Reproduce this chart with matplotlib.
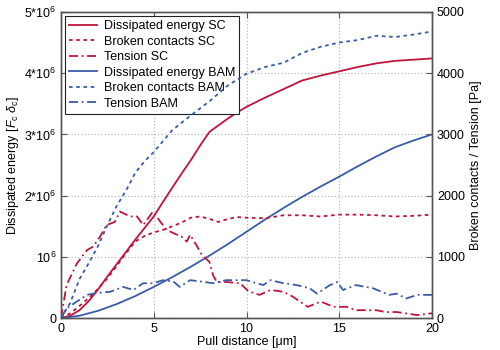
import matplotlib
matplotlib.use("Agg")
import matplotlib.pyplot as plt

plt.rcParams["font.family"] = ["Liberation Sans", "DejaVu Sans"]
plt.rcParams["mathtext.fontset"] = "custom"
plt.rcParams["mathtext.rm"] = "Liberation Sans"
plt.rcParams["mathtext.it"] = "Liberation Sans:italic"
plt.rcParams["mathtext.sf"] = "Liberation Sans"

RED = "#c0143c"
BLUE = "#3a5ba6"

# Dissipated energy (left axis, units of 1e6)
x_e_sc = [0, 0.5, 1, 1.5, 2, 2.5, 3, 3.5, 4, 4.5, 5, 5.5, 6, 6.5, 7, 7.5, 8, 8.5, 9, 9.5,
          10, 11, 12, 13, 14, 15, 16, 17, 18, 19, 20]
e_sc = [0, 0.04, 0.13, 0.28, 0.47, 0.68, 0.88, 1.08, 1.28, 1.47, 1.66, 1.9, 2.13, 2.36, 2.58,
        2.82, 3.04, 3.15, 3.26, 3.36, 3.45, 3.6, 3.74, 3.88, 3.96, 4.03, 4.1, 4.16, 4.2, 4.22, 4.24]

x_e_bam = [0, 1, 2, 3, 4, 5, 6, 7, 8, 9, 10, 11, 12, 13, 14, 15, 16, 17, 18, 19, 20]
e_bam = [0, 0.04, 0.12, 0.23, 0.36, 0.51, 0.67, 0.84, 1.02, 1.21, 1.41, 1.61, 1.8, 1.98,
         2.15, 2.31, 2.48, 2.64, 2.79, 2.9, 3.0]

# Broken contacts (right axis)
x_b_sc = [0, 0.5, 1, 1.5, 2, 2.5, 3, 3.5, 4, 4.5, 5, 5.5, 6, 6.5, 7, 7.5, 8, 8.5, 9, 9.5,
          10, 11, 12, 13, 14, 15, 16, 17, 18, 19, 20]
b_sc = [0, 80, 200, 330, 480, 650, 850, 1060, 1250, 1340, 1400, 1440, 1500, 1560, 1640, 1660,
        1620, 1570, 1620, 1650, 1640, 1630, 1680, 1680, 1660, 1690, 1690, 1680, 1660, 1670, 1690]

x_b_bam = [0, 0.5, 1, 1.5, 2, 2.5, 3, 3.5, 4, 4.5, 5, 6, 7, 8, 9, 10, 11, 12, 13, 14, 15,
           16, 17, 18, 19, 20]
b_bam = [0, 250, 640, 900, 1180, 1520, 1830, 2080, 2370, 2560, 2710, 3070, 3310, 3540, 3800,
         3990, 4100, 4170, 4330, 4430, 4500, 4540, 4610, 4590, 4630, 4680]

# Tension (right axis)
x_t_sc = [0, 0.3, 0.85, 1.4, 1.74, 2.1, 2.46, 2.9, 3.18, 3.72, 4.1, 4.43, 4.96, 5.34, 5.7,
          6.05, 6.5, 6.78, 6.96, 7.3, 7.6, 8.0, 8.2, 8.4, 8.9, 9.65, 10.1, 10.7, 11.3, 12,
          12.5, 13.3, 14, 14.7, 15.4, 15.9, 17, 17.5, 18.1, 19.2, 20]
t_sc = [0, 540, 890, 1110, 1170, 1330, 1520, 1570, 1740, 1660, 1660, 1520, 1740, 1580, 1440,
        1390, 1330, 1250, 1360, 1190, 1030, 920, 700, 590, 590, 570, 440, 380, 460, 430,
        350, 185, 270, 185, 185, 130, 130, 100, 100, 50, 80]

x_t_bam = [0, 0.3, 0.85, 1.4, 1.92, 2.64, 3.35, 3.9, 4.43, 4.96, 5.5, 6.05, 6.4, 6.96, 7.5,
           8.2, 8.9, 10, 10.9, 11.3, 12, 12.7, 13.4, 13.8, 14.5, 14.9, 15.2, 15.9, 16.8,
           17.7, 18.1, 18.6, 19.2, 20]
t_bam = [0, 160, 270, 380, 410, 430, 510, 460, 570, 570, 620, 600, 510, 620, 600, 570, 620,
         620, 540, 620, 570, 540, 490, 400, 540, 590, 460, 540, 490, 380, 400, 320, 380, 380]

fig = plt.figure(figsize=(5, 3.5), dpi=100)
ax = fig.add_axes([0.122, 0.091, 0.742, 0.875])
ax2 = ax.twinx()

l1, = ax.plot(x_e_sc, [v * 1e6 for v in e_sc], "-", color=RED, lw=1.3, label="Dissipated energy SC")
l2, = ax2.plot(x_b_sc, b_sc, color=RED, lw=1.3, ls=(0, (2, 2)), label="Broken contacts SC")
l3, = ax2.plot(x_t_sc, t_sc, color=RED, lw=1.3, ls=(0, (5, 2, 1, 2)), label="Tension SC")
l4, = ax.plot(x_e_bam, [v * 1e6 for v in e_bam], "-", color=BLUE, lw=1.3, label="Dissipated energy BAM")
l5, = ax2.plot(x_b_bam, b_bam, color=BLUE, lw=1.3, ls=(0, (2, 2)), label="Broken contacts BAM")
l6, = ax2.plot(x_t_bam, t_bam, color=BLUE, lw=1.3, ls=(0, (5, 2, 1, 2)), label="Tension BAM")

ax.set_xlim(0, 20)
ax.set_ylim(0, 5e6)
ax2.set_ylim(0, 5000)
ax.set_xticks([0, 5, 10, 15, 20])
ax.set_yticks([0, 1e6, 2e6, 3e6, 4e6, 5e6])
ax.set_yticklabels(["0", "10$^6$", "2*10$^6$", "3*10$^6$", "4*10$^6$", "5*10$^6$"])
ax2.set_yticks([0, 1000, 2000, 3000, 4000, 5000])

ax.grid(True, color="#b0b0b0", ls=(0, (1, 2)), lw=0.8)
ax.tick_params(direction="in", labelsize=9, top=True, length=4, color="#555555")
ax2.tick_params(direction="in", labelsize=9, length=4, color="#555555")
for a in (ax, ax2):
    for s in a.spines.values():
        s.set_color("#555555")
        s.set_linewidth(1.0)

ax.set_xlabel("Pull distance [μm]", fontsize=9, labelpad=1)
ax.set_ylabel(r"Dissipated energy [$F_\mathrm{c}\ \delta_\mathrm{c}$]", fontsize=9, labelpad=2)
ax2.set_ylabel("Broken contacts / Tension [Pa]", fontsize=9, labelpad=4)

leg = ax.legend(handles=[l1, l2, l3, l4, l5, l6], loc="upper left", fontsize=9,
                fancybox=False, framealpha=1, edgecolor="#222222",
                borderaxespad=0.3, handlelength=2.2, handletextpad=0.55,
                labelspacing=0.28, borderpad=0.35)
leg.get_frame().set_linewidth(0.8)

fig.savefig("out.png", dpi=100)
